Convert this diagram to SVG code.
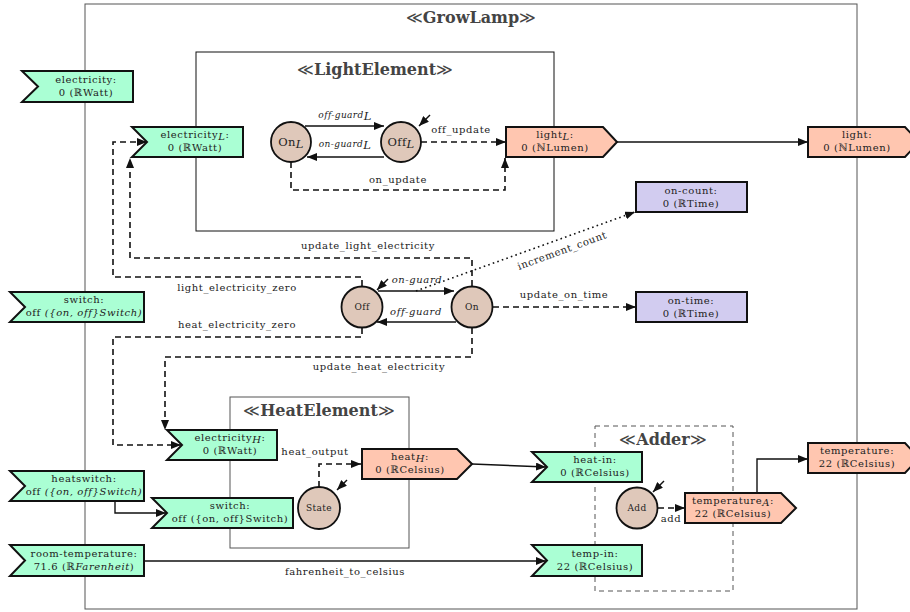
<svg xmlns="http://www.w3.org/2000/svg" width="910" height="612" viewBox="0 0 910 612">
<style>
text{font-family:"DejaVu Serif","Liberation Serif",serif;font-size:10px;letter-spacing:0.6px;fill:#222;text-anchor:middle}
.title{font-size:16px;font-weight:bold;fill:#444;letter-spacing:0}
.sym{font-weight:normal}
.it{font-style:italic}
.big{font-size:11.5px;letter-spacing:0.3px}
.sm{font-size:9px;letter-spacing:0.4px}
.inp{fill:#aaffd4;stroke:#111;stroke-width:2;stroke-linejoin:miter}
.outp{fill:#ffc6b0;stroke:#111;stroke-width:2}
.loc{fill:#d2ccf0;stroke:#111;stroke-width:2}
.state{fill:#dfc8ba;stroke:#111;stroke-width:1.8}
.box{fill:none;stroke:#555;stroke-width:1}
.c{fill:none;stroke:#111;stroke-width:1.4}
.d{fill:none;stroke:#111;stroke-width:1.6;stroke-dasharray:6,4}
.dot{fill:none;stroke:#111;stroke-width:1.6;stroke-dasharray:1.6,3.2}
</style>
<defs>
<marker id="ah" viewBox="0 0 10 8" refX="10" refY="4" markerWidth="10" markerHeight="8" markerUnits="userSpaceOnUse" orient="auto">
<path d="M0,0 L10,4 L0,8 z" fill="#111"/>
</marker>
</defs>

<g id="GrowLamp">
<rect class="box" x="85" y="4" width="772" height="605"/>
<text class="title" x="471" y="23"><tspan class="sym">≪</tspan>GrowLamp<tspan class="sym">≫</tspan></text>
</g>
<g id="LightElement">
<rect class="box" style="stroke:#111" x="196" y="52" width="358" height="179"/>
<text class="title" x="375" y="75"><tspan class="sym">≪</tspan>LightElement<tspan class="sym">≫</tspan></text>
</g>
<g id="HeatElement">
<rect class="box" x="230" y="397" width="179" height="151"/>
<text class="title" x="319" y="416"><tspan class="sym">≪</tspan>HeatElement<tspan class="sym">≫</tspan></text>
</g>
<g id="Adder">
<rect class="box" style="stroke-dasharray:5,4" x="595" y="426" width="138" height="165"/>
<text class="title" x="663" y="445"><tspan class="sym">≪</tspan>Adder<tspan class="sym">≫</tspan></text>
</g>

<g id="connectors">
<line class="c" x1="305" y1="126" x2="384" y2="126" marker-end="url(#ah)"/>
<line class="c" x1="384" y1="157" x2="307" y2="157" marker-end="url(#ah)"/>
<line class="c" x1="430" y1="115" x2="419" y2="126" marker-end="url(#ah)"/>
<line class="d" x1="421" y1="142" x2="506" y2="142" marker-end="url(#ah)"/>
<path class="d" d="M291,162 V190 H505 V158" marker-end="url(#ah)"/>
<line class="c" x1="617" y1="142" x2="808" y2="142" marker-end="url(#ah)"/>
<line class="c" x1="378" y1="291" x2="454" y2="291" marker-end="url(#ah)"/>
<line class="c" x1="456" y1="322" x2="377" y2="322" marker-end="url(#ah)"/>
<line class="c" x1="388" y1="279" x2="377" y2="290" marker-end="url(#ah)"/>
<line class="dot" x1="416" y1="291" x2="635" y2="212" marker-end="url(#ah)"/>
<line class="d" x1="493" y1="307" x2="636" y2="307" marker-end="url(#ah)"/>
<path class="d" d="M472,286 V258 H130 V158" marker-end="url(#ah)"/>
<path class="d" d="M362,286 V277 H113 V142 H147" marker-end="url(#ah)"/>
<path class="d" d="M362,328 V337 H113 V445 H181" marker-end="url(#ah)"/>
<path class="d" d="M472,328 V357 H165 V430" marker-end="url(#ah)"/>
<path class="d" d="M319,487 V464 H361" marker-end="url(#ah)"/>
<line class="c" x1="347" y1="480" x2="337" y2="490" marker-end="url(#ah)"/>
<path class="c" d="M115,501 V513 H166" marker-end="url(#ah)"/>
<line class="c" x1="472" y1="464" x2="546" y2="467" marker-end="url(#ah)"/>
<line class="c" x1="144" y1="561" x2="546" y2="561" marker-end="url(#ah)"/>
<line class="c" x1="664" y1="481" x2="653" y2="492" marker-end="url(#ah)"/>
<line class="d" x1="658" y1="508" x2="685" y2="508" marker-end="url(#ah)"/>
<path class="c" d="M757,493 V459 H808" marker-end="url(#ah)"/>

<text class="it sm" x="345" y="118">off-guard<tspan class="big" dy="2">L</tspan></text>
<text class="it sm" x="345" y="147">on-guard<tspan class="big" dy="2">L</tspan></text>
<text x="461" y="133">off_update</text>
<text x="398" y="183">on_update</text>
<text x="368" y="249">update_light_electricity</text>
<text x="237" y="291">light_electricity_zero</text>
<text x="237" y="328">heat_electricity_zero</text>
<text x="379" y="370">update_heat_electricity</text>
<text class="it" x="417" y="283">on-guard</text>
<text class="it" x="416" y="315">off-guard</text>
<text x="564" y="298">update_on_time</text>
<text x="562" y="254" transform="rotate(-20 562 250)">increment_count</text>
<text x="315" y="455">heat_output</text>
<text x="671" y="522">add</text>
<text x="345" y="575">fahrenheit_to_celsius</text>
</g>

<g id="OnL"><circle class="state" cx="291" cy="142" r="20"/><text class="big" x="291" y="146">On<tspan class="it" dy="2">L</tspan></text></g>
<g id="OffL"><circle class="state" cx="401" cy="142" r="20"/><text class="big" x="401" y="146">Off<tspan class="it" dy="2">L</tspan></text></g>
<g id="Off"><circle class="state" cx="362" cy="307" r="20.5"/><text class="sm" x="362" y="310">Off</text></g>
<g id="On"><circle class="state" cx="472" cy="307" r="20.5"/><text class="sm" x="472" y="310">On</text></g>
<g id="State"><circle class="state" cx="319" cy="508" r="21"/><text class="sm" x="319" y="511">State</text></g>
<g id="Add"><circle class="state" cx="637" cy="508" r="20.5"/><text class="sm" x="637" y="511">Add</text></g>

<g id="electricity"><polygon class="inp" points="22,71 133,71 133,102 22,102 38,86.5"/><text x="86" y="83">electricity:</text><text x="86" y="96">0 (ℝWatt)</text></g>
<g id="electricityL"><polygon class="inp" points="132,127 243,127 243,157 132,157 147,142"/><text x="195" y="138">electricity<tspan class="it" dy="2">L</tspan><tspan dy="-2">:</tspan></text><text x="195" y="151">0 (ℝWatt)</text></g>
<g id="lightL"><polygon class="outp" points="506,127 603,127 617,142 603,157 506,157"/><text x="555" y="138">light<tspan class="it" dy="2">L</tspan><tspan dy="-2">:</tspan></text><text x="555" y="151">0 (ℕLumen)</text></g>
<g id="light"><polygon class="outp" points="808,127 905,127 919,142 905,157 808,157"/><text x="857" y="138">light:</text><text x="857" y="151">0 (ℕLumen)</text></g>
<g id="on-count"><rect class="loc" x="636" y="182" width="111" height="30"/><text x="691" y="194">on-count:</text><text x="691" y="207">0 (ℝTime)</text></g>
<g id="on-time"><rect class="loc" x="636" y="292" width="111" height="30"/><text x="691" y="304">on-time:</text><text x="691" y="317">0 (ℝTime)</text></g>
<g id="switch-outer"><polygon class="inp" points="10,292 144,292 144,322 10,322 25,307"/><text x="84" y="303">switch:</text><text x="84" y="316">off <tspan class="it">({on, off}Switch)</tspan></text></g>
<g id="electricityH"><polygon class="inp" points="167,430 277,430 277,460 167,460 182,445"/><text x="230" y="441">electricity<tspan class="it" dy="2">H</tspan><tspan dy="-2">:</tspan></text><text x="230" y="454">0 (ℝWatt)</text></g>
<g id="heatswitch"><polygon class="inp" points="10,471 144,471 144,501 10,501 25,486"/><text x="84" y="482">heatswitch:</text><text x="84" y="495">off <tspan class="it">({on, off}Switch)</tspan></text></g>
<g id="switch-inner"><polygon class="inp" points="152,498 293,498 293,528 152,528 167,513"/><text x="230" y="509">switch:</text><text x="230" y="522">off ({on, off}Switch)</text></g>
<g id="heatH"><polygon class="outp" points="362,449 457,449 472,464 457,479 362,479"/><text x="410" y="460">heat<tspan class="it" dy="2">H</tspan><tspan dy="-2">:</tspan></text><text x="410" y="473">0 (ℝCelsius)</text></g>
<g id="heat-in"><polygon class="inp" points="532,452 642,452 642,482 532,482 547,467"/><text x="595" y="463">heat-in:</text><text x="595" y="476">0 (ℝCelsius)</text></g>
<g id="temp-in"><polygon class="inp" points="532,545 642,545 642,576 532,576 547,560.5"/><text x="595" y="557">temp-in:</text><text x="595" y="570">22 (ℝCelsius)</text></g>
<g id="room-temperature"><polygon class="inp" points="10,545 144,545 144,576 10,576 25,560.5"/><text x="84" y="557">room-temperature:</text><text x="84" y="570">71.6 (ℝ<tspan class="it">Farenheit</tspan>)</text></g>
<g id="temperatureA"><polygon class="outp" points="685,493 781,493 796,508 781,523 685,523"/><text x="733" y="504">temperature<tspan class="it" dy="2">A</tspan><tspan dy="-2">:</tspan></text><text x="733" y="517">22 (ℝCelsius)</text></g>
<g id="temperature"><polygon class="outp" points="808,443 905,443 919,458 905,473 808,473"/><text x="857" y="454">temperature:</text><text x="857" y="467">22 (ℝCelsius)</text></g>
</svg>
